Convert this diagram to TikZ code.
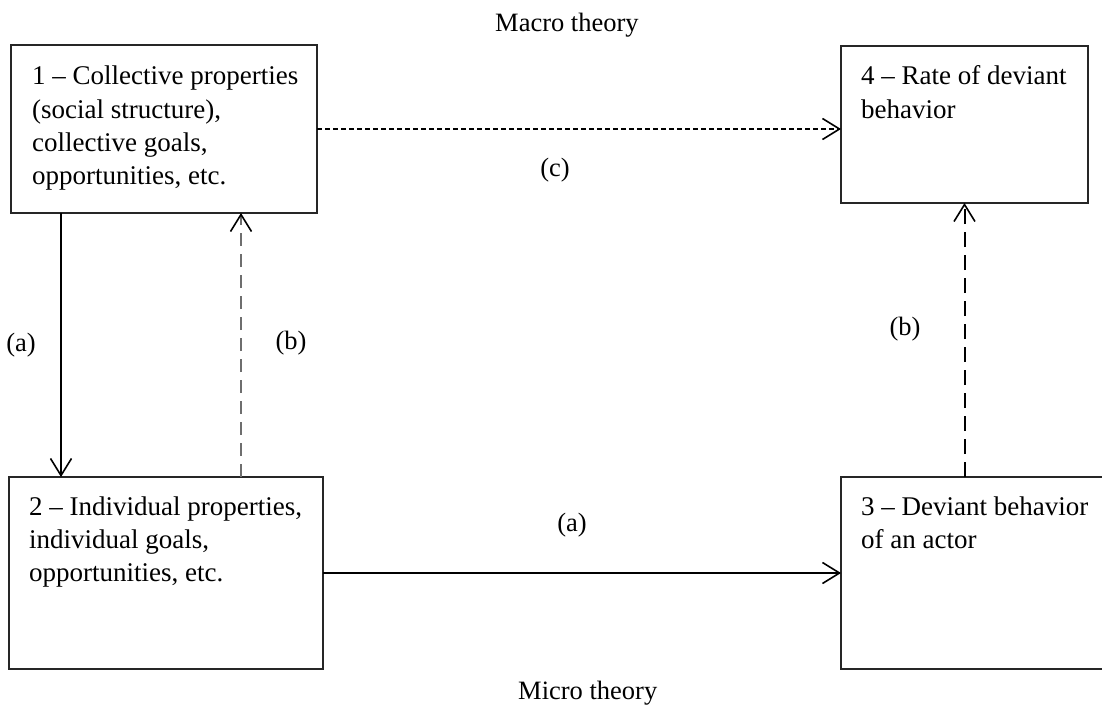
\documentclass[tikz,border=0pt]{standalone}
\usepackage{fontspec}
\setmainfont{Liberation Serif}
\usetikzlibrary{arrows.meta}
\definecolor{linkgray}{RGB}{110,110,110}
\begin{document}
\begin{tikzpicture}[x=1pt,y=-1pt,
  box/.style={draw=black!85, line width=1.3pt, inner sep=0pt, outer sep=0pt},
  boxtext/.style={anchor=base west, inner sep=0pt, font=\fontsize{27}{33.3}\selectfont},
  lbl/.style={inner sep=0pt, font=\fontsize{26.5}{32}\selectfont},
  barb/.style={-{Straight Barb[length=17pt,width=21pt,line width=1.6pt,color=black]}},
  solidlink/.style={barb, line width=2pt},
  grayhash/.style={barb, line width=2pt, draw=linkgray, dash pattern=on 13pt off 8pt},
  longhash/.style={barb, line width=2pt, dash pattern=on 15pt off 8pt},
  shorthash/.style={barb, line width=1.6pt, dash pattern=on 5pt off 3pt}]
\useasboundingbox (0,0) rectangle (1102,706);

% the four boxes
\node[box, minimum width=306pt, minimum height=168pt] (B1) at (164,129) {};
\node[box, minimum width=247pt, minimum height=157pt] (B4) at (964.5,124.5) {};
\node[box, minimum width=314pt, minimum height=192pt] (B2) at (166,573) {};
\node[box, minimum width=271pt, minimum height=192pt] (B3) at (976.5,573) {};

% box contents
\node[boxtext] (T1) at (32,85) {\parbox[t]{280pt}{\raggedright
  1 \textendash{} Collective properties\\(social structure),\\collective goals,\\opportunities, etc.}};
\node[boxtext] (T4) at (861,85) {\parbox[t]{230pt}{\raggedright
  4 \textendash{} Rate of deviant\\behavior}};
\node[boxtext] (T2) at (29,515) {\parbox[t]{290pt}{\raggedright
  2 \textendash{} Individual properties,\\individual goals,\\opportunities, etc.}};
\node[boxtext] (T3) at (861,515) {\parbox[t]{240pt}{\raggedright
  3 \textendash{} Deviant behavior\\of an actor}};

% level titles
\node[lbl, anchor=base west] (macro) at (495,32) {Macro theory};
\node[lbl, anchor=base west] (micro) at (518,699) {Micro theory};

% x positions of the vertical links on the left
\coordinate (xa) at (61,0);
\coordinate (xb) at (241,0);

% connectors
\draw[solidlink] (B1.south -| xa) -- (B2.north -| xa);
\draw[grayhash] (B2.north -| xb) -- (B1.south -| xb);
\draw[shorthash] (B1.east) -- (B1.east -| B4.west);
\draw[solidlink] (B2.east) -- (B3.west);
\draw[longhash] (B3.north -| B4.south) -- (B4.south);

% connector labels
\node[lbl] (la1) at (21,345) {(a)};
\node[lbl] (lb1) at (291,343) {(b)};
\node[lbl] (lc) at (555,170) {(c)};
\node[lbl] (la2) at (572,525) {(a)};
\node[lbl] (lb2) at (905,329) {(b)};
\end{tikzpicture}
\end{document}
